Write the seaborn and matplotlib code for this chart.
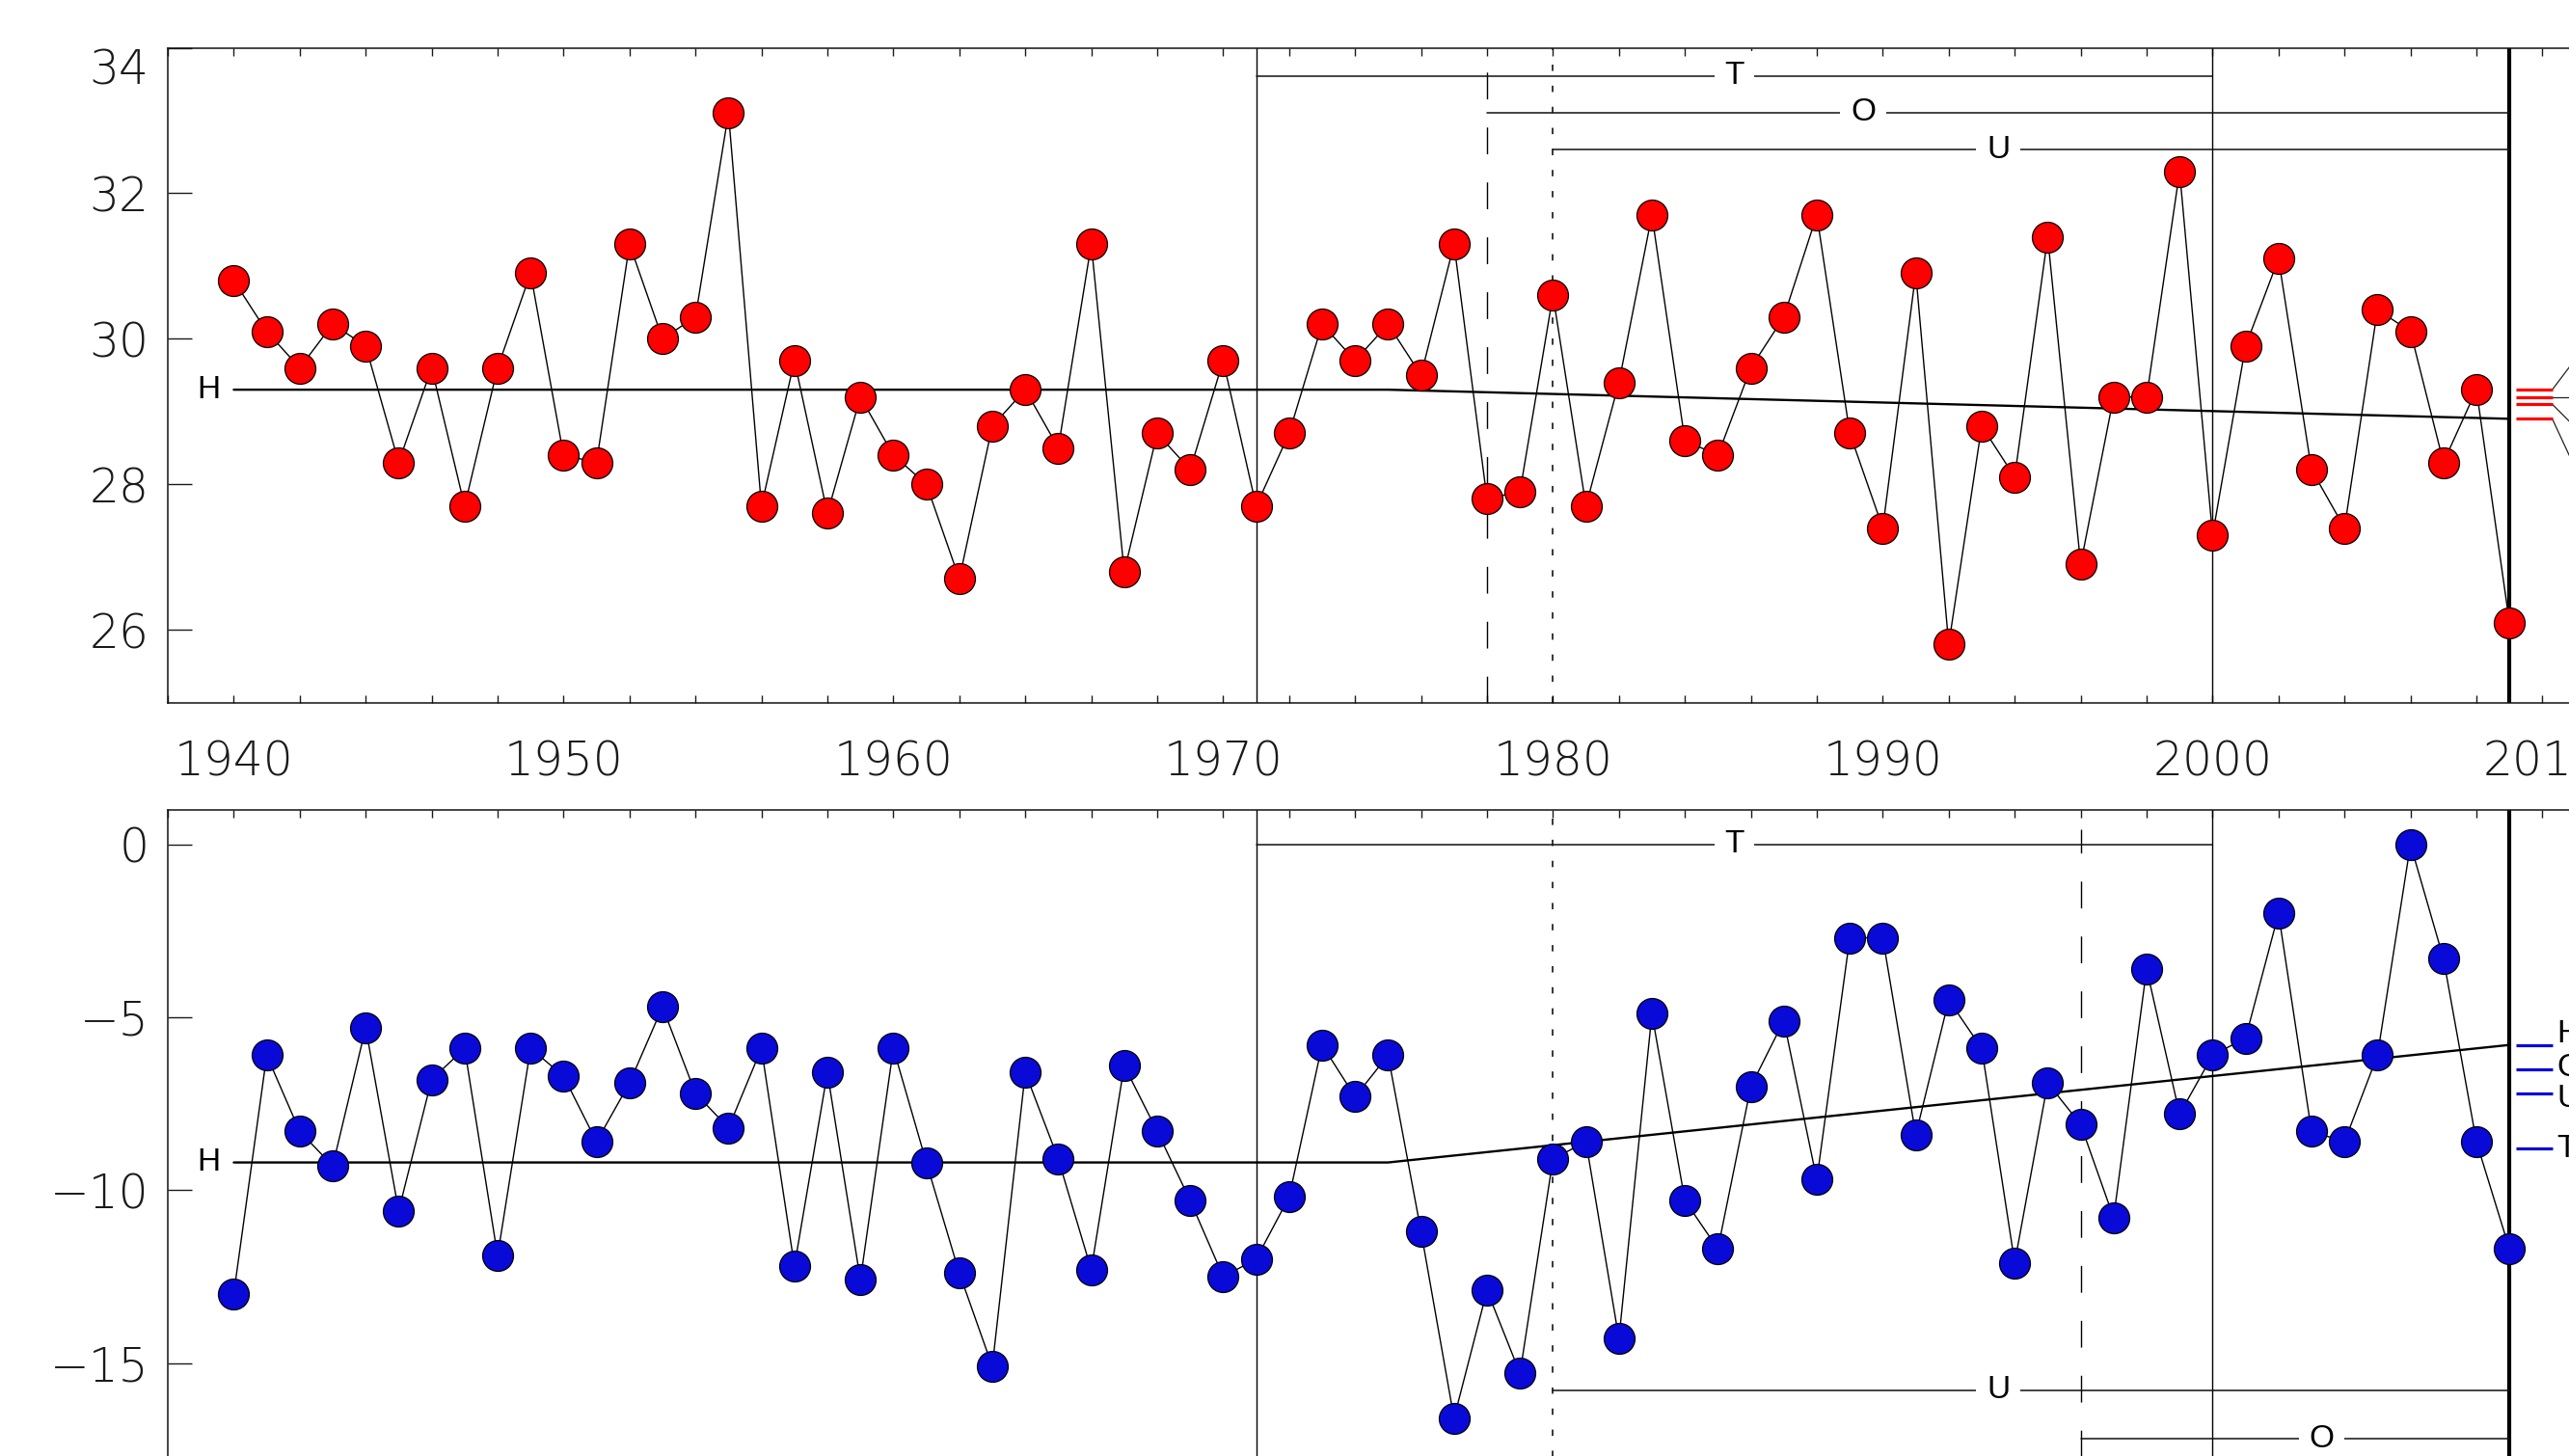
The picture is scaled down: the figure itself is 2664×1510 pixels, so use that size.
import matplotlib
matplotlib.use("Agg")
import matplotlib.pyplot as plt
import seaborn as sns

# ---- data ----
years = list(range(1940, 2010))
red_vals = [30.8, 30.1, 29.6, 30.2, 29.9, 28.3, 29.6, 27.7, 29.6, 30.9,
            28.4, 28.3, 31.3, 30.0, 30.3, 33.1, 27.7, 29.7, 27.6, 29.2,
            28.4, 28.0, 26.7, 28.8, 29.3, 28.5, 31.3, 26.8, 28.7, 28.2,
            29.7, 27.7, 28.7, 30.2, 29.7, 30.2, 29.5, 31.3, 27.8, 27.9,
            30.6, 27.7, 29.4, 31.7, 28.6, 28.4, 29.6, 30.3, 31.7, 28.7,
            27.4, 30.9, 25.8, 28.8, 28.1, 31.4, 26.9, 29.2, 29.2, 32.3,
            27.3, 29.9, 31.1, 28.2, 27.4, 30.4, 30.1, 28.3, 29.3, 26.1]
blue_vals = [-13.0, -6.1, -8.3, -9.3, -5.3, -10.6, -6.8, -5.9, -11.9, -5.9,
             -6.7, -8.6, -6.9, -4.7, -7.2, -8.2, -5.9, -12.2, -6.6, -12.6,
             -5.9, -9.2, -12.4, -15.1, -6.6, -9.1, -12.3, -6.4, -8.3, -10.3,
             -12.5, -12.0, -10.2, -5.8, -7.3, -6.1, -11.2, -16.6, -12.9, -15.3,
             -9.1, -8.6, -14.3, -4.9, -10.3, -11.7, -7.0, -5.1, -9.7, -2.7,
             -2.7, -8.4, -4.5, -5.9, -12.1, -6.9, -8.1, -10.8, -3.6, -7.8,
             -6.1, -5.6, -2.0, -8.3, -8.6, -6.1, 0.0, -3.3, -8.6, -11.7]

h_years = [1940, 1975, 2009]
h_red = [29.3, 29.3, 28.9]
h_blue = [-9.2, -9.2, -5.8]

end_labels = ["H", "O", "U", "T"]
red_end = [29.3, 29.2, 29.1, 28.9]
red_leader_y = [29.84, 29.2, 28.69, 28.02]
blue_end = [-5.8, -6.5, -7.2, -8.8]
blue_label_y = [-5.5, -6.46, -7.35, -8.8]

top_br_labels = ["T", "O", "U"]
top_br_start = [1971, 1978, 1980]
top_br_end = [2000, 2009, 2009]
top_br_level = [33.61, 33.11, 32.6]
top_br_text_x = [1985.5, 1989.4, 1993.5]

bot_br_labels = ["T", "U", "O"]
bot_br_start = [1971, 1980, 1996]
bot_br_end = [2000, 2009, 2009]
bot_br_level = [0.0, -15.79, -17.19]
bot_br_text_x = [1985.5, 1993.5, 2003.3]

sns.set_style("white")
plt.rcParams["font.family"] = ["DejaVu Sans"]

fig = plt.figure(figsize=(26.64, 15.10), dpi=100)
px_per_year = 34.2
xmin, xmax = 1938, 2020
ax_w = (xmax - xmin) * px_per_year / 2664
ax_top = fig.add_axes([174 / 2664, (1510 - 728.6) / 1510, ax_w, 679.1 / 1510])
ax_bot = fig.add_axes([174 / 2664, (1510 - 839.9 - 21 * 35.85) / 1510, ax_w, 21 * 35.85 / 1510])

letter_font = dict(family=["Liberation Sans", "DejaVu Sans"], fontsize=24, color="black")
dash_long = (0, (20, 21))
dot_short = (0, (4.3, 10))


def style_axes(ax, ylim, yticks, ylabels, xlabels_on):
    ax.set_xlim(xmin, xmax)
    ax.set_ylim(*ylim)
    xt = list(range(xmin, xmax + 1, 2))
    ax.set_xticks(xt)
    if xlabels_on:
        ax.set_xticklabels([str(t) if t % 10 == 0 and t <= 2010 else "" for t in xt])
    else:
        ax.set_xticklabels([])
    ax.set_yticks(yticks)
    ax.set_yticklabels(ylabels)
    ax.tick_params(axis="x", direction="in", top=True, bottom=True, length=6,
                   width=1, labelsize=35, pad=27, colors="#1a1a1a")
    ax.tick_params(axis="y", direction="in", left=True, right=True, length=18,
                   width=1, labelsize=35, pad=14, colors="#1a1a1a")
    for lbl in ax.get_xticklabels() + ax.get_yticklabels():
        lbl.set_fontweight("light")
    for sp in ax.spines.values():
        sp.set_linewidth(1.1)
        sp.set_color("#111111")


def draw_panel(ax, vals, face, h_vals, brackets, verticals):
    sns.lineplot(x=years, y=vals, ax=ax, color="black", lw=1.0, marker="o",
                 markersize=23, markerfacecolor=face, markeredgecolor="black",
                 markeredgewidth=0.9, zorder=5)
    sns.lineplot(x=h_years, y=h_vals, ax=ax, color="black", lw=1.7, zorder=3)
    ax.text(1939.6, h_vals[0], "H", ha="right", va="center", **letter_font)

    ylo = ax.get_ylim()[0]
    for x, y0, ls, lw in verticals:
        ax.plot([x, x], [ylo, y0], color="black", ls=ls, lw=lw, zorder=2)

    labels, starts, ends, levels, text_x = brackets
    for lab, s, e, lev, tx in zip(labels, starts, ends, levels, text_x):
        ax.plot([s, e], [lev, lev], color="#111111", lw=1.1, zorder=2)
        ax.text(tx, lev, lab, ha="center", va="center", zorder=6,
                bbox=dict(boxstyle="square,pad=0.32", fc="white", ec="none"),
                **letter_font)


style_axes(ax_top, (25, 34), [26, 28, 30, 32, 34], ["26", "28", "30", "32", "34"], True)
style_axes(ax_bot, (-20, 1), [-20, -15, -10, -5, 0],
           ["", "\u221215", "\u221210", "\u22125", "0"], False)

draw_panel(ax_top, red_vals, "red", h_red,
           (top_br_labels, top_br_start, top_br_end, top_br_level, top_br_text_x),
           [(1971, 34, "-", 1.0), (2000, 34, "-", 1.0), (1978, 33.75, dash_long, 1.0),
            (1980, 34, dot_short, 1.1), (2009, 34, "-", 3.0)])
draw_panel(ax_bot, blue_vals, "#0a0ad8", h_blue,
           (bot_br_labels, bot_br_start, bot_br_end, bot_br_level, bot_br_text_x),
           [(1971, 1, "-", 1.0), (2000, 1, "-", 1.0), (1996, 0.45, dash_long, 1.0),
            (1980, 1, dot_short, 1.1), (2009, 1, "-", 3.0)])

# "34" label sits just under the top spine
ax_top.get_yticklabels()[-1].set_verticalalignment("top")

# end markers to the right of the 2009 line
ax_top.hlines(red_end, 2009.2, 2010.3, colors="red", lw=2.3, zorder=4)
for v, ly in zip(red_end, red_leader_y):
    ax_top.plot([2010.3, 2011.2], [v, ly], color="#222222", lw=0.9)

ax_bot.hlines(blue_end, 2009.2, 2010.3, colors="#0a0ad8", lw=2.3, zorder=4)
for v, ly, lab in zip(blue_end, blue_label_y, end_labels):
    ax_bot.text(2010.44, ly, lab, ha="left", va="center", **letter_font)

fig.savefig("out.png", dpi=100)
